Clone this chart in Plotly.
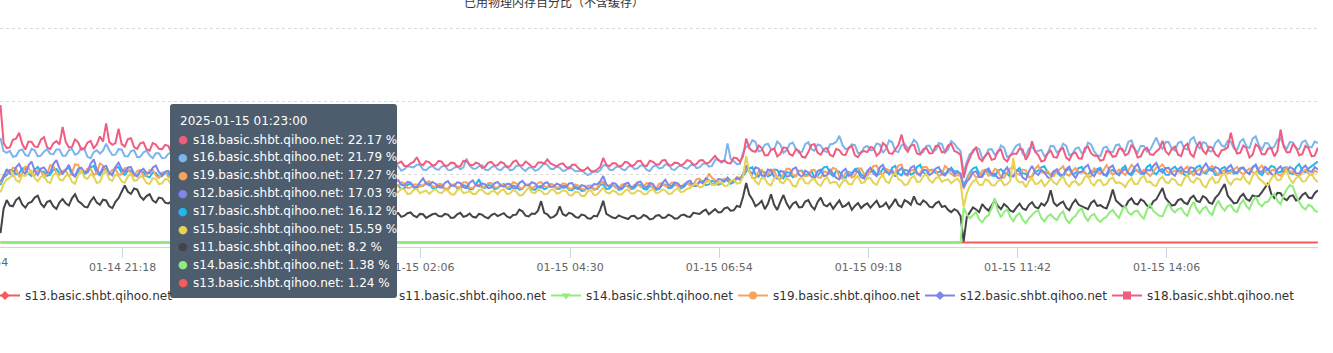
import plotly.graph_objects as go
import pandas as pd

# ---------------- data (3-minute samples) ----------------
start_time = "2025-01-14 19:20"
step = "3min"

s18 = [
    39.0, 28.6, 27.2, 27.4, 29.5, 29.8, 31.4, 28.3, 26.8, 29.0, 28.9, 27.6, 27.5, 29.5, 30.2, 27.4, 26.9, 28.5, 29.1, 28.2,
    33.0, 28.9, 27.4, 27.5, 29.6, 28.8, 26.8, 27.0, 28.7, 29.2, 27.2, 28.2, 30.4, 29.0, 34.0, 28.9, 28.1, 28.6, 32.5, 28.3,
    27.6, 29.7, 29.9, 27.5, 27.0, 28.5, 28.8, 26.9, 26.5, 28.6, 28.2, 27.0, 26.9, 28.1, 27.8, 25.8, 25.9, 27.0, 27.1, 25.9,
    26.4, 26.9, 27.5, 26.6, 25.8, 26.4, 26.9, 26.2, 25.6, 26.1, 26.7, 25.9, 25.2, 25.8, 26.3, 25.6, 25.0, 25.5, 26.1, 25.4,
    24.8, 25.3, 25.9, 25.2, 24.6, 25.0, 25.5, 24.9, 24.3, 24.7, 25.2, 24.6, 24.0, 24.4, 24.9, 24.3, 23.8, 24.2, 24.6, 24.1,
    23.6, 24.0, 24.4, 23.8, 23.3, 23.7, 24.1, 23.5, 23.0, 23.4, 23.8, 23.3, 22.8, 23.2, 23.6, 23.1, 22.6, 23.0, 23.4, 22.9,
    22.3, 22.2, 22.1, 21.8, 22.8, 23.0, 22.4, 22.2, 23.1, 23.5, 22.3, 22.3, 23.0, 23.4, 24.7, 22.9, 22.5, 23.6, 23.3, 22.4,
    22.6, 23.7, 23.5, 22.3, 22.4, 23.2, 23.1, 22.1, 22.2, 23.7, 23.6, 22.6, 22.5, 23.2, 22.9, 21.7, 22.1, 23.2, 23.4, 22.4,
    22.5, 23.4, 23.0, 21.9, 22.2, 23.4, 23.8, 22.5, 22.4, 23.5, 22.9, 22.1, 22.0, 23.2, 23.3, 22.9, 24.1, 23.0, 22.6, 22.1,
    22.8, 23.0, 22.0, 21.6, 22.6, 22.6, 21.7, 20.9, 21.2, 21.9, 20.9, 20.7, 21.3, 22.0, 24.5, 22.6, 22.2, 23.0, 23.0, 22.1,
    22.4, 23.4, 23.2, 22.2, 22.6, 23.6, 23.7, 22.4, 22.3, 23.7, 23.4, 22.7, 22.7, 23.8, 23.9, 22.4, 22.5, 23.2, 23.1, 22.4,
    22.9, 23.9, 23.6, 22.5, 22.8, 23.8, 23.9, 23.0, 23.2, 24.2, 25.1, 23.9, 23.5, 23.8, 23.1, 23.0, 24.6, 24.4, 23.4, 25.0,
    29.8, 27.2, 26.4, 26.2, 27.9, 27.2, 25.2, 25.2, 26.8, 27.1, 24.9, 25.6, 27.4, 27.2, 25.5, 25.1, 26.9, 26.4, 24.8, 24.6,
    26.1, 28.1, 28.3, 25.9, 25.4, 26.9, 27.2, 25.3, 24.9, 27.0, 26.6, 25.4, 25.3, 27.3, 27.8, 25.2, 24.7, 26.1, 26.4, 26.1,
    27.5, 27.2, 25.1, 25.9, 28.6, 27.8, 25.8, 25.6, 27.0, 28.0, 30.9, 27.4, 26.2, 27.9, 28.1, 25.7, 25.4, 26.9, 27.3, 25.7,
    25.8, 27.8, 27.9, 26.0, 26.2, 27.9, 28.4, 26.4, 26.0, 25.4, 19.0, 22.5, 24.5, 26.6, 27.3, 24.4, 23.6, 25.2, 25.9, 24.0,
    24.2, 26.4, 26.8, 24.2, 23.5, 25.2, 25.7, 25.6, 27.1, 26.8, 24.0, 25.5, 29.1, 26.2, 25.3, 23.5, 23.8, 25.7, 26.5, 24.7,
    24.6, 26.8, 27.2, 24.6, 23.9, 25.6, 26.0, 24.4, 24.3, 27.2, 27.6, 25.8, 25.1, 25.1, 23.7, 24.0, 26.4, 26.1, 24.8, 25.0,
    27.0, 27.0, 25.2, 25.7, 28.1, 27.0, 24.6, 24.9, 26.7, 27.3, 25.5, 25.3, 26.3, 27.0, 29.2, 26.3, 25.4, 27.0, 27.6, 25.4,
    25.0, 27.6, 28.4, 25.6, 24.8, 27.5, 29.0, 26.5, 25.6, 27.6, 27.3, 25.5, 24.9, 26.6, 26.8, 27.4, 31.4, 27.6, 25.7, 25.9,
    27.9, 27.2, 24.6, 25.4, 28.2, 27.5, 25.5, 25.5, 27.1, 27.2, 24.9, 26.4, 32.3, 27.6, 26.0, 26.1, 28.4, 27.3, 25.2, 25.6,
    27.8, 27.2, 24.9, 25.1, 27.3,
]

s16 = [
    30.0, 26.4, 25.9, 26.4, 24.8, 25.0, 26.5, 26.8, 25.3, 25.0, 27.0, 26.6, 24.9, 25.1, 26.2, 26.9, 25.6, 25.5, 26.8, 26.8,
    25.1, 25.1, 26.6, 27.0, 25.4, 25.8, 27.3, 27.0, 24.8, 24.4, 26.1, 26.6, 25.7, 26.5, 28.4, 26.6, 25.3, 25.4, 26.9, 26.8,
    25.0, 24.9, 26.4, 26.6, 24.7, 24.8, 26.0, 26.5, 25.2, 24.4, 25.8, 25.8, 24.4, 24.5, 25.6, 26.1, 24.6, 24.3, 25.3, 25.6,
    24.3, 24.8, 25.1, 24.5, 24.0, 24.4, 24.8, 24.2, 23.7, 24.1, 24.5, 23.9, 23.5, 23.9, 24.2, 23.7, 23.3, 23.7, 24.0, 23.5,
    23.1, 23.5, 23.8, 23.3, 22.9, 23.3, 23.6, 23.1, 22.7, 23.0, 23.4, 22.9, 22.5, 22.8, 23.1, 22.7, 22.3, 22.6, 22.9, 22.5,
    22.2, 22.5, 22.8, 22.4, 22.0, 22.3, 22.6, 22.2, 21.9, 22.2, 22.5, 22.1, 21.7, 22.0, 22.3, 21.9, 21.6, 21.9, 22.1, 21.9,
    21.8, 21.8, 21.7, 22.7, 22.3, 21.5, 21.5, 22.5, 22.2, 21.0, 21.4, 22.2, 22.0, 21.9, 22.6, 22.6, 21.3, 21.1, 21.9, 22.3,
    21.5, 21.2, 22.1, 22.4, 21.2, 21.1, 21.8, 22.2, 21.4, 21.9, 24.3, 22.4, 21.6, 21.5, 22.2, 22.5, 21.3, 21.1, 21.9, 22.3,
    21.4, 21.1, 22.0, 22.3, 21.1, 21.3, 22.3, 22.5, 21.5, 20.9, 21.8, 21.9, 21.0, 21.2, 22.1, 23.0, 22.6, 21.5, 21.4, 22.2,
    21.8, 20.9, 21.1, 22.0, 21.5, 20.8, 20.8, 21.2, 20.4, 19.8, 20.2, 20.9, 20.6, 21.1, 22.4, 22.5, 21.3, 21.1, 21.9, 22.3,
    21.4, 21.1, 22.0, 22.5, 21.5, 21.6, 22.4, 22.4, 21.2, 20.9, 22.1, 22.4, 21.6, 21.8, 22.7, 22.8, 21.4, 21.2, 22.0, 22.5,
    21.8, 21.5, 22.4, 22.8, 21.7, 21.9, 22.8, 23.1, 22.1, 22.3, 24.0, 24.1, 23.2, 23.7, 28.5, 24.2, 23.6, 22.8, 22.9, 25.9,
    27.6, 27.7, 29.4, 28.9, 26.3, 26.6, 28.1, 28.4, 26.8, 26.8, 29.0, 28.2, 25.9, 26.6, 28.3, 28.7, 27.0, 25.9, 26.2, 28.3,
    28.8, 26.9, 26.5, 28.2, 27.9, 26.4, 26.1, 28.2, 28.4, 28.9, 30.6, 28.0, 26.9, 27.1, 28.2, 28.0, 25.8, 25.9, 27.4, 27.8,
    26.6, 26.8, 28.5, 28.2, 25.9, 27.0, 29.3, 28.8, 26.4, 26.1, 28.0, 28.3, 27.1, 27.8, 29.5, 28.6, 25.7, 26.1, 27.8, 27.9,
    26.3, 26.7, 28.6, 28.3, 25.9, 26.9, 29.1, 28.4, 27.2, 26.4, 20.2, 23.4, 25.6, 26.0, 27.4, 26.9, 24.3, 24.9, 26.8, 26.9,
    25.4, 25.9, 27.9, 27.3, 24.7, 25.1, 26.6, 27.9, 28.3, 25.6, 25.1, 27.0, 27.5, 26.5, 26.4, 26.7, 24.9, 25.7, 27.8, 27.7,
    26.0, 26.4, 28.4, 27.8, 25.2, 25.6, 27.1, 27.4, 25.8, 26.2, 28.7, 28.2, 26.3, 25.2, 25.0, 27.3, 27.6, 26.2, 26.1, 28.0,
    28.2, 26.5, 26.4, 28.9, 29.3, 27.0, 25.9, 27.8, 27.8, 26.2, 26.7, 28.6, 30.1, 28.0, 27.0, 28.9, 28.8, 27.0, 26.5, 28.6,
    29.0, 27.1, 26.8, 29.5, 30.2, 28.1, 27.1, 28.8, 28.6, 26.4, 26.3, 28.6, 29.4, 28.0, 27.5, 29.2, 28.9, 27.1, 26.7, 29.0,
    29.7, 27.7, 27.2, 29.8, 30.4, 28.0, 26.8, 28.6, 28.5, 27.0, 27.6, 29.5, 29.9, 28.0, 27.0, 28.9, 28.7, 27.1, 26.9, 28.9,
    29.3, 27.6, 27.4, 29.0, 28.6,
]

s19 = [
    17.5, 19.8, 20.6, 20.3, 21.8, 21.6, 19.4, 20.2, 22.1, 21.9, 20.0, 19.6, 21.3, 20.9, 19.2, 20.2, 22.5, 22.3, 20.3, 19.9,
    21.0, 21.0, 19.6, 20.3, 22.7, 22.6, 20.4, 20.4, 21.5, 21.5, 19.8, 20.3, 23.0, 22.4, 20.6, 20.2, 21.2, 21.5, 19.9, 20.0,
    21.7, 21.6, 20.2, 19.6, 20.9, 21.2, 19.5, 19.7, 21.1, 21.2, 19.7, 19.0, 20.5, 20.5, 19.3, 19.0, 20.2, 20.5, 19.0, 18.5,
    19.6, 20.0, 20.3, 19.6, 19.0, 19.5, 19.9, 19.2, 18.7, 19.1, 19.5, 18.9, 18.5, 18.9, 19.2, 18.7, 18.3, 18.7, 19.0, 18.5,
    18.2, 18.5, 18.8, 18.3, 17.9, 18.3, 18.6, 18.1, 17.8, 18.1, 18.4, 17.9, 17.6, 17.9, 18.2, 17.8, 17.5, 17.8, 18.0, 17.6,
    17.4, 17.8, 18.1, 17.6, 17.3, 17.6, 17.9, 17.5, 17.2, 17.5, 17.8, 17.3, 17.0, 17.4, 17.7, 17.2, 16.9, 17.2, 17.5, 17.3,
    17.1, 17.3, 17.4, 16.4, 16.6, 18.0, 17.9, 17.0, 16.8, 17.8, 17.5, 16.2, 16.4, 17.2, 17.2, 16.6, 16.9, 17.8, 18.1, 16.7,
    16.5, 17.4, 17.3, 16.1, 16.0, 17.2, 17.0, 16.4, 16.6, 17.8, 17.8, 16.2, 16.2, 17.0, 17.1, 16.3, 16.5, 17.6, 17.6, 16.4,
    16.3, 17.2, 17.0, 16.3, 16.7, 17.8, 17.5, 16.4, 16.0, 17.2, 17.2, 16.1, 16.6, 17.6, 17.9, 16.7, 16.4, 17.3, 17.0, 16.2,
    16.6, 17.5, 17.3, 16.0, 16.1, 17.2, 16.9, 16.0, 15.8, 16.9, 16.7, 15.7, 16.2, 17.5, 18.0, 17.0, 16.9, 17.2, 16.3, 16.2,
    17.2, 17.3, 16.4, 16.2, 17.1, 17.5, 16.5, 16.7, 17.6, 17.5, 16.2, 16.0, 17.4, 17.5, 16.8, 16.8, 17.7, 17.8, 16.6, 16.4,
    17.3, 17.6, 16.9, 17.2, 18.6, 18.8, 17.5, 18.2, 20.2, 19.0, 18.4, 17.4, 17.9, 18.8, 18.8, 18.0, 18.1, 19.2, 19.0, 19.7,
    21.6, 21.0, 19.0, 19.0, 20.8, 21.3, 19.7, 19.9, 21.3, 21.0, 19.1, 18.6, 20.2, 21.5, 21.5, 19.8, 19.4, 21.0, 20.7, 19.4,
    19.6, 21.1, 21.2, 19.2, 19.0, 20.8, 20.5, 20.6, 21.8, 21.4, 19.3, 18.8, 20.4, 20.4, 19.1, 19.6, 21.4, 21.6, 20.0, 19.6,
    20.8, 22.3, 22.4, 20.3, 19.9, 21.5, 21.1, 20.2, 20.5, 22.4, 22.7, 20.0, 19.6, 21.0, 21.3, 20.0, 20.2, 22.0, 22.0, 20.8,
    21.2, 21.0, 19.5, 20.0, 22.3, 21.5, 20.1, 19.4, 19.8, 19.5, 16.0, 18.0, 20.2, 20.3, 19.1, 19.4, 21.0, 21.2, 19.6, 19.8,
    21.5, 21.1, 19.2, 19.0, 20.6, 21.6, 22.0, 20.3, 19.8, 21.3, 21.1, 19.2, 19.4, 21.5, 22.4, 20.6, 20.3, 20.9, 19.7, 19.5,
    20.9, 21.4, 22.2, 20.0, 19.6, 20.9, 21.7, 20.5, 20.4, 20.7, 19.3, 19.4, 21.8, 20.6, 20.1, 21.1, 22.5, 21.0, 19.9, 20.5,
    21.3, 20.6, 19.8, 21.0, 22.6, 21.8, 20.7, 20.4, 21.2, 20.4, 19.5, 20.6, 21.9, 22.0, 22.7, 21.3, 20.3, 20.5, 21.0, 20.8,
    20.2, 21.4, 22.1, 20.6, 19.7, 20.9, 21.5, 20.6, 20.9, 21.8, 22.3, 20.8, 19.8, 20.7, 21.2, 20.2, 20.5, 21.4, 22.0, 20.6,
    19.9, 20.9, 21.6, 20.5, 20.4, 21.6, 22.4, 20.9, 20.0, 21.0, 21.3, 20.1, 19.6, 20.9, 21.8, 20.8, 20.7, 19.8, 19.5, 20.6,
    21.2, 20.2, 19.8, 21.0, 20.5,
]

s12 = [
    18.0, 19.4, 21.4, 20.2, 19.6, 21.9, 22.8, 21.0, 20.1, 22.4, 23.5, 21.0, 19.8, 21.6, 21.9, 20.5, 20.4, 22.8, 23.9, 21.6,
    20.2, 21.2, 22.6, 20.4, 19.5, 21.5, 21.8, 20.6, 20.7, 22.9, 24.1, 21.3, 20.0, 21.9, 22.3, 20.4, 19.7, 22.0, 23.2, 21.4,
    20.6, 21.9, 22.0, 20.1, 19.4, 20.9, 21.5, 20.4, 20.3, 21.8, 22.4, 20.6, 19.8, 20.7, 20.9, 19.6, 19.1, 20.4, 20.6, 19.6,
    19.9, 20.4, 20.8, 20.0, 19.3, 19.8, 20.4, 19.6, 18.9, 19.5, 20.1, 19.4, 18.7, 19.2, 19.8, 19.2, 18.6, 19.0, 19.5, 19.0,
    18.5, 18.9, 19.3, 18.7, 18.2, 18.6, 19.1, 18.5, 18.0, 18.4, 18.8, 18.3, 17.9, 18.2, 18.6, 18.1, 17.7, 18.0, 18.4, 18.0,
    17.6, 18.0, 18.3, 17.9, 17.5, 17.8, 18.1, 17.7, 17.3, 17.6, 18.0, 17.6, 17.2, 17.5, 17.9, 17.5, 17.1, 17.4, 17.6, 17.2,
    16.9, 17.0, 17.1, 17.9, 17.8, 16.8, 16.6, 17.9, 18.4, 17.1, 16.9, 17.9, 17.7, 16.6, 16.5, 17.8, 18.9, 17.4, 17.0, 17.9,
    17.4, 16.5, 16.3, 17.6, 18.1, 16.9, 16.8, 17.8, 17.6, 16.4, 16.2, 17.7, 18.3, 17.0, 16.7, 17.5, 17.2, 16.2, 16.4, 17.5,
    17.9, 16.9, 16.6, 17.4, 17.3, 16.2, 16.1, 17.6, 18.2, 17.0, 16.9, 17.8, 17.5, 16.4, 16.3, 17.5, 17.8, 16.5, 16.6, 17.4,
    17.1, 16.3, 16.4, 17.5, 17.6, 16.2, 15.9, 17.0, 16.8, 16.0, 16.3, 17.3, 17.2, 18.0, 19.5, 17.2, 16.5, 17.6, 17.4, 16.3,
    16.2, 17.4, 17.7, 16.4, 16.6, 17.8, 18.0, 16.6, 16.4, 17.6, 17.3, 16.0, 16.1, 17.6, 18.5, 17.0, 16.7, 17.7, 17.5, 16.6,
    16.9, 17.9, 18.2, 16.9, 16.8, 18.0, 17.6, 18.9, 18.4, 17.3, 17.2, 18.7, 18.6, 18.0, 19.1, 18.2, 17.9, 19.0, 18.5, 20.1,
    22.4, 20.9, 20.1, 21.9, 21.6, 19.7, 19.4, 21.3, 21.0, 19.3, 18.8, 20.9, 20.7, 19.3, 19.6, 21.4, 21.9, 19.9, 19.2, 21.0,
    20.5, 19.3, 18.9, 20.9, 21.3, 19.5, 19.7, 21.2, 20.2, 19.0, 18.6, 20.8, 21.5, 19.6, 19.9, 21.1, 20.6, 19.2, 18.8, 20.9,
    21.8, 20.2, 19.5, 21.9, 22.6, 20.6, 20.3, 21.0, 19.4, 20.9, 21.7, 20.2, 20.0, 21.8, 22.3, 20.4, 19.6, 21.2, 21.1, 19.8,
    20.4, 21.6, 22.0, 20.1, 19.7, 21.3, 21.4, 20.0, 20.6, 20.2, 16.5, 18.0, 18.9, 20.6, 20.8, 19.2, 19.3, 21.0, 21.6, 20.0,
    20.1, 19.0, 18.7, 20.9, 21.9, 20.0, 19.4, 21.0, 20.8, 19.1, 18.5, 20.8, 22.3, 20.5, 19.8, 21.2, 20.6, 19.2, 18.9, 20.7,
    21.4, 20.0, 19.6, 21.4, 22.1, 20.1, 19.0, 20.5, 20.7, 21.9, 22.6, 20.3, 19.5, 21.0, 21.2, 19.9, 20.0, 21.8, 22.4, 20.4,
    19.7, 20.9, 21.5, 20.3, 20.2, 21.9, 22.8, 20.8, 19.9, 21.2, 21.0, 22.3, 23.1, 21.2, 20.4, 21.7, 21.8, 20.2, 19.6, 21.4,
    22.0, 20.7, 20.5, 21.9, 21.7, 20.1, 19.8, 21.8, 23.0, 21.3, 20.9, 22.0, 21.6, 20.3, 20.1, 21.8, 22.5, 20.8, 20.3, 21.7,
    21.9, 20.6, 20.0, 21.8, 22.7, 20.9, 20.6, 22.0, 21.4, 20.1, 19.7, 21.4, 22.2, 20.5, 20.8, 22.0, 21.5, 20.3, 20.2, 21.6,
    22.4, 21.0, 20.6, 22.0, 21.3,
]

s17 = [
    17.0, 19.1, 19.8, 21.2, 21.0, 20.0, 20.2, 21.6, 21.7, 20.1, 19.5, 21.3, 22.0, 20.9, 20.6, 19.6, 19.9, 21.3, 21.4, 20.3,
    20.1, 21.4, 21.8, 20.0, 19.4, 20.8, 21.0, 20.1, 20.5, 21.9, 22.3, 20.3, 19.7, 21.2, 21.5, 20.0, 20.2, 21.7, 22.0, 20.4,
    19.8, 20.9, 21.1, 19.8, 19.6, 20.8, 20.6, 19.5, 19.2, 20.5, 20.4, 19.3, 19.5, 20.4, 20.1, 19.0, 18.9, 19.9, 19.8, 19.0,
    19.1, 19.5, 19.8, 19.2, 18.6, 19.0, 19.4, 18.8, 18.3, 18.7, 19.0, 18.5, 18.1, 18.4, 18.7, 18.3, 17.9, 18.2, 18.5, 18.1,
    17.8, 18.1, 18.3, 17.9, 17.5, 17.8, 18.0, 17.6, 17.3, 17.6, 17.8, 17.4, 17.1, 17.4, 17.6, 17.2, 16.9, 17.2, 17.4, 17.0,
    16.8, 17.0, 17.2, 16.9, 16.6, 16.9, 17.1, 16.8, 16.5, 16.7, 16.9, 16.6, 16.3, 16.6, 16.8, 16.5, 16.2, 16.4, 16.6, 16.2,
    16.3, 16.1, 16.0, 16.8, 16.7, 15.8, 15.9, 16.9, 16.9, 15.9, 16.2, 17.1, 17.4, 16.3, 16.1, 17.0, 16.8, 17.6, 17.5, 16.2,
    16.0, 17.0, 16.9, 15.9, 15.8, 16.9, 17.2, 16.1, 16.3, 17.0, 16.7, 15.8, 15.9, 17.2, 18.6, 16.6, 16.2, 17.1, 16.8, 15.9,
    16.1, 16.9, 17.3, 16.1, 15.9, 16.9, 16.6, 15.8, 16.0, 17.1, 17.0, 15.9, 15.7, 16.6, 16.8, 15.9, 16.3, 17.3, 17.1, 16.0,
    16.0, 16.9, 16.7, 15.7, 15.6, 16.5, 16.4, 15.4, 15.5, 16.8, 16.9, 15.8, 15.9, 17.0, 17.3, 16.0, 16.1, 17.0, 16.6, 15.7,
    15.9, 16.9, 16.8, 15.9, 16.2, 17.2, 17.0, 16.0, 15.8, 16.8, 16.5, 15.7, 16.0, 17.1, 17.2, 16.2, 16.3, 17.2, 16.9, 16.1,
    16.6, 17.5, 17.4, 16.7, 16.8, 18.0, 18.1, 17.0, 17.2, 18.2, 17.9, 17.1, 17.5, 18.5, 18.3, 17.4, 17.8, 18.9, 18.6, 19.5,
    20.8, 21.6, 21.9, 20.0, 19.3, 20.8, 20.5, 19.4, 19.9, 21.3, 21.2, 19.6, 18.9, 20.6, 20.4, 19.2, 19.6, 21.0, 21.0, 19.8,
    20.0, 20.9, 19.2, 19.6, 20.9, 21.9, 22.1, 20.3, 19.5, 21.0, 20.7, 19.4, 19.0, 20.6, 20.3, 21.4, 21.6, 19.9, 19.4, 20.8,
    20.6, 21.1, 19.8, 20.1, 21.5, 21.2, 20.0, 21.8, 22.3, 20.2, 19.7, 21.2, 21.0, 19.9, 20.4, 22.0, 22.6, 20.5, 19.9, 21.1,
    21.3, 20.4, 20.6, 21.0, 19.9, 20.6, 21.8, 20.7, 20.9, 20.0, 17.0, 19.0, 20.5, 21.6, 22.0, 20.2, 19.7, 21.2, 20.8, 19.7,
    19.5, 20.9, 21.4, 20.4, 20.2, 19.3, 19.6, 21.0, 21.7, 20.3, 20.1, 19.2, 19.3, 20.7, 21.0, 21.9, 22.2, 20.4, 19.8, 20.9,
    20.7, 19.6, 19.4, 21.0, 21.5, 20.1, 20.3, 21.7, 22.0, 20.3, 19.9, 20.9, 20.6, 21.4, 21.8, 20.0, 19.5, 20.9, 21.2, 20.2,
    20.1, 21.6, 22.3, 20.2, 19.7, 21.0, 21.1, 20.1, 20.5, 22.0, 22.6, 20.6, 20.0, 21.2, 21.4, 19.9, 19.8, 21.5, 22.1, 20.9,
    21.0, 19.9, 19.6, 20.6, 20.8, 22.0, 22.4, 20.5, 20.2, 21.4, 21.5, 19.8, 19.9, 21.6, 22.0, 20.8, 21.1, 20.2, 20.4, 21.5,
    21.7, 20.6, 20.3, 22.0, 22.5, 20.4, 19.8, 21.1, 21.2, 22.3, 22.0, 20.5, 20.6, 21.8, 21.9, 20.3, 20.1, 22.0, 22.8, 21.0,
    20.5, 21.6, 22.2, 22.7, 23.5,
]

s15 = [
    15.0, 17.3, 18.6, 19.0, 20.2, 18.4, 17.8, 19.8, 19.5, 20.5, 21.0, 18.9, 18.1, 19.3, 19.7, 18.0, 17.6, 19.8, 20.4, 18.6,
    18.3, 19.6, 19.9, 17.9, 17.4, 19.8, 21.2, 19.2, 18.7, 20.0, 19.4, 17.6, 17.9, 20.1, 20.8, 18.6, 18.2, 19.9, 19.6, 18.0,
    17.7, 19.4, 20.1, 18.2, 18.4, 19.5, 19.0, 17.6, 17.3, 18.9, 18.8, 17.3, 17.5, 18.7, 18.5, 17.0, 17.2, 18.4, 18.1, 17.4,
    17.6, 18.0, 18.3, 17.7, 17.1, 17.5, 17.9, 17.3, 16.8, 17.2, 17.6, 17.1, 16.7, 17.0, 17.3, 16.9, 16.5, 16.8, 17.1, 16.7,
    16.4, 16.7, 17.0, 16.6, 16.2, 16.5, 16.8, 16.4, 16.1, 16.3, 16.6, 16.2, 15.9, 16.2, 16.4, 16.1, 15.8, 16.0, 16.3, 15.9,
    15.7, 16.0, 16.2, 15.9, 15.6, 15.8, 16.1, 15.8, 15.5, 15.7, 16.0, 15.7, 15.4, 15.6, 15.9, 15.6, 15.3, 15.5, 15.8, 15.6,
    15.5, 15.6, 15.7, 14.8, 14.9, 15.9, 16.2, 14.9, 15.1, 16.0, 15.8, 14.6, 14.7, 15.7, 16.0, 14.8, 15.2, 15.5, 14.6, 15.4,
    15.9, 15.0, 14.8, 15.7, 15.5, 14.5, 14.4, 15.6, 16.1, 14.8, 15.0, 15.4, 14.6, 14.6, 15.7, 15.8, 14.9, 14.5, 15.3, 15.4,
    14.5, 15.5, 15.8, 14.6, 14.7, 15.7, 15.2, 14.2, 14.3, 15.5, 16.4, 15.0, 14.8, 15.7, 15.5, 14.5, 14.6, 15.6, 15.9, 14.7,
    14.9, 15.6, 15.4, 14.3, 14.2, 15.2, 15.1, 14.0, 14.0, 15.3, 15.6, 14.3, 14.4, 15.4, 16.3, 15.0, 14.7, 15.5, 15.2, 14.4,
    14.5, 15.5, 15.7, 14.7, 14.8, 15.6, 15.3, 14.5, 14.6, 15.6, 15.9, 14.8, 15.0, 15.8, 15.5, 14.6, 14.7, 15.7, 16.0, 15.1,
    15.3, 16.0, 16.2, 17.0, 17.4, 16.4, 16.6, 17.8, 18.3, 17.0, 17.1, 18.0, 17.8, 16.8, 16.9, 18.2, 18.5, 17.4, 17.6, 19.5,
    25.0, 20.6, 19.4, 18.0, 17.2, 19.0, 18.8, 17.4, 16.9, 18.9, 19.6, 17.8, 17.5, 18.9, 18.3, 16.9, 16.6, 18.6, 19.1, 17.6,
    17.4, 18.5, 18.7, 17.3, 16.8, 18.4, 19.3, 17.5, 17.9, 17.8, 16.5, 17.9, 18.6, 17.3, 17.2, 18.8, 19.5, 17.6, 17.8, 19.0,
    18.9, 17.6, 17.1, 18.9, 19.8, 18.0, 17.6, 19.5, 20.4, 18.6, 18.2, 17.0, 17.3, 18.9, 19.6, 17.9, 18.0, 19.5, 20.1, 18.3,
    17.7, 19.0, 19.2, 17.9, 18.4, 18.6, 17.5, 18.3, 18.8, 17.6, 11.0, 14.8, 16.8, 18.0, 18.5, 17.1, 17.0, 18.6, 18.2, 17.0,
    16.9, 18.1, 18.6, 17.0, 17.3, 18.2, 24.5, 18.6, 17.8, 17.9, 16.4, 18.0, 19.0, 17.3, 17.5, 18.4, 16.7, 17.6, 18.9, 17.8,
    17.2, 18.6, 19.4, 17.5, 16.6, 17.9, 18.1, 17.0, 17.6, 19.2, 19.8, 17.6, 16.9, 18.3, 18.4, 17.0, 17.3, 18.7, 19.1, 17.6,
    17.8, 17.4, 16.5, 18.0, 18.9, 17.3, 17.4, 18.9, 19.6, 17.9, 18.0, 17.0, 16.8, 18.6, 19.3, 17.8, 17.6, 18.8, 18.5, 17.2,
    16.9, 18.8, 19.9, 18.2, 17.7, 19.0, 18.6, 16.9, 16.4, 18.3, 19.2, 17.6, 17.9, 19.6, 20.3, 18.1, 17.1, 18.5, 18.8, 18.4,
    19.6, 18.1, 17.4, 19.6, 20.5, 18.8, 18.2, 17.3, 17.0, 18.9, 19.8, 18.3, 18.5, 20.2, 20.9, 18.6, 17.6, 19.0, 19.4, 18.0,
    18.1, 19.5, 20.2, 18.6, 17.9,
]

s11 = [
    3.8, 10.5, 12.9, 11.4, 11.2, 12.9, 13.6, 11.7, 10.8, 12.1, 12.4, 13.6, 14.1, 11.9, 11.0, 12.4, 12.7, 11.2, 10.5, 12.3,
    13.2, 12.0, 11.4, 13.4, 14.5, 12.6, 12.0, 11.1, 10.9, 12.6, 13.7, 12.2, 11.6, 13.0, 12.8, 11.2, 10.7, 12.4, 13.4, 15.0,
    16.9, 15.2, 14.6, 16.1, 15.8, 13.9, 13.0, 14.0, 14.5, 12.8, 12.2, 13.6, 13.4, 12.2, 12.0, 12.5, 11.4, 12.1, 12.6, 11.6,
    11.8, 12.1, 12.3, 11.6, 11.2, 11.5, 11.7, 11.1, 10.8, 11.1, 11.3, 10.8, 10.5, 10.8, 10.9, 10.5, 10.2, 10.5, 10.6, 10.2,
    9.9, 10.2, 10.4, 10.0, 9.7, 9.9, 10.1, 9.7, 9.5, 9.8, 9.9, 9.5, 9.3, 9.6, 9.7, 9.3, 9.1, 9.3, 9.4, 9.1,
    9.0, 9.2, 9.3, 9.0, 8.8, 9.0, 9.1, 8.8, 8.7, 8.9, 8.9, 8.6, 8.5, 8.7, 8.8, 8.5, 8.4, 8.6, 8.6, 8.4,
    8.3, 8.2, 8.1, 8.8, 8.9, 8.0, 8.4, 9.2, 9.3, 8.3, 8.6, 9.3, 9.5, 8.6, 8.2, 9.1, 9.0, 8.0, 8.5, 9.0,
    9.2, 8.5, 8.4, 9.1, 8.9, 8.0, 8.1, 9.0, 9.4, 8.3, 8.6, 9.2, 8.3, 8.1, 9.1, 8.9, 8.2, 7.9, 8.8, 9.2,
    8.5, 8.9, 9.3, 8.4, 8.0, 8.8, 8.9, 10.3, 9.8, 8.6, 8.4, 9.2, 9.1, 10.0, 12.6, 9.4, 9.0, 8.0, 8.3, 9.0,
    11.2, 9.0, 8.6, 9.4, 9.1, 8.3, 8.0, 8.9, 8.7, 7.9, 7.8, 8.6, 8.4, 10.2, 12.7, 9.1, 8.5, 8.1, 7.9, 8.7,
    8.3, 7.9, 7.7, 8.5, 8.6, 7.8, 8.0, 8.8, 8.4, 7.6, 7.8, 8.6, 8.8, 8.0, 8.1, 8.9, 8.5, 7.8, 7.9, 8.7,
    8.9, 8.4, 8.3, 9.4, 9.2, 9.1, 9.8, 10.3, 9.0, 9.6, 10.4, 9.5, 9.6, 10.6, 10.9, 10.0, 10.1, 11.3, 11.0, 13.8,
    17.6, 14.4, 13.1, 11.2, 11.8, 12.7, 10.4, 11.9, 14.5, 11.6, 10.2, 12.4, 14.3, 12.0, 10.6, 11.9, 12.4, 10.9, 11.0, 12.5,
    12.9, 11.2, 10.3, 12.4, 13.6, 11.6, 11.2, 12.0, 10.5, 11.7, 12.8, 11.0, 11.4, 12.2, 10.2, 11.3, 12.1, 10.7, 11.5, 12.0,
    10.8, 11.8, 12.7, 11.0, 11.3, 12.2, 10.6, 11.8, 13.2, 11.5, 11.0, 12.9, 12.4, 11.6, 13.9, 12.0, 11.6, 12.8, 12.2, 11.1,
    10.9, 12.0, 12.5, 11.0, 11.3, 10.2, 9.6, 10.4, 9.9, 8.5, 1.5, 8.2, 9.5, 10.9, 10.3, 9.6, 11.8, 10.7, 10.0, 11.5,
    12.8, 11.3, 10.4, 11.8, 11.1, 10.0, 9.7, 10.9, 11.9, 10.6, 10.2, 11.6, 12.3, 11.0, 10.6, 12.0, 11.4, 12.6, 15.6, 12.2,
    11.3, 12.0, 12.5, 10.8, 10.1, 11.9, 13.0, 11.6, 11.2, 11.0, 10.4, 12.1, 12.8, 11.3, 11.5, 10.9, 10.6, 12.9, 15.8, 12.8,
    12.1, 11.2, 11.0, 12.6, 13.4, 12.0, 11.7, 13.1, 12.6, 11.4, 10.9, 12.5, 13.1, 14.8, 16.2, 13.4, 12.3, 11.4, 11.6, 12.9,
    13.2, 12.2, 11.8, 13.4, 14.1, 12.7, 12.4, 14.0, 13.5, 12.2, 11.9, 13.5, 14.4, 15.8, 17.3, 14.1, 13.0, 12.0, 12.2, 13.8,
    14.6, 13.2, 12.7, 14.2, 13.9, 14.0, 15.1, 16.4, 17.6, 14.6, 13.5, 14.9, 14.8, 13.4, 12.9, 14.0, 14.2, 12.8, 13.1, 14.3,
    14.9, 13.6, 13.4, 14.8, 15.6,
]

# s14: flat until 10:47, then 3-minute samples
s14_flat_times = ["2025-01-14 19:20"]
s14_flat = [1.38]
s14_rest_start = "2025-01-15 10:47"
s14_rest = [
    1.38,
    10.8, 9.0, 7.9, 8.9, 9.6, 7.6, 6.8, 8.1, 8.7, 10.6,
    13.5, 9.9, 8.2, 9.6, 10.4, 8.3, 7.1, 8.6, 9.3, 7.5, 6.5, 7.9, 8.8, 9.7, 10.1, 8.0, 7.0, 8.4, 9.0, 8.0,
    7.4, 8.9, 9.8, 7.6, 6.6, 7.9, 8.5, 9.9, 10.6, 8.4, 7.2, 8.6, 9.1, 7.6, 6.9, 7.8, 8.3, 9.6, 10.2, 8.9,
    8.0, 10.1, 11.3, 9.4, 8.9, 9.8, 10.0, 8.6, 7.8, 10.2, 11.8, 9.9, 9.2, 8.6, 8.4, 10.5, 12.0, 10.3, 9.5, 10.4,
    10.7, 9.3, 8.6, 10.9, 12.4, 10.4, 9.3, 10.6, 11.1, 9.5, 8.8, 11.2, 12.7, 11.0, 10.0, 11.3, 11.5, 10.1, 9.6, 11.8,
    12.9, 11.2, 10.4, 12.6, 13.8, 11.9, 11.2, 12.3, 12.5, 13.9, 14.6, 12.7, 11.8, 14.2, 15.9, 17.0, 16.6, 14.1, 12.4, 11.0,
    10.3, 11.6, 11.2, 10.0, 9.6,
]

s13_times = ["2025-01-14 19:20", "2025-01-15 16:32"]
s13 = [1.24, 1.24]

# drawing order (later = on top), colours, legend
draw_order = ["s17", "s13", "s16", "s11", "s14", "s19", "s12", "s18", "s15"]
series_values = {"s18": s18, "s16": s16, "s19": s19, "s12": s12, "s17": s17,
                 "s15": s15, "s11": s11}
colors = {"s18": "#f15c80", "s16": "#7cb5ec", "s19": "#f7a35c", "s12": "#8085e9",
          "s17": "#1fb8ee", "s15": "#e4d354", "s11": "#434348", "s14": "#90ed7d",
          "s13": "#f45b5b"}
legend_order = ["s13", "s16", "s11", "s14", "s19", "s12", "s18"]
legend_hidden_under_tooltip = {"s16": "both", "s11": "symbol"}
legend_symbols = {"s13": "diamond", "s16": "square", "s11": "triangle-up",
                  "s14": "triangle-down", "s19": "circle", "s12": "diamond",
                  "s18": "square"}
suffix = ".basic.shbt.qihoo.net"

# tooltip content
tip_time = "2025-01-15 01:23:00"
tip_names = ["s18", "s16", "s19", "s12", "s17", "s15", "s11", "s14", "s13"]
tip_values = [22.17, 21.79, 17.27, 17.03, 16.12, 15.59, 8.2, 1.38, 1.24]

# axis
tick_times = ["2025-01-14 21:18", "2025-01-14 23:42", "2025-01-15 02:06",
              "2025-01-15 04:30", "2025-01-15 06:54", "2025-01-15 09:18",
              "2025-01-15 11:42", "2025-01-15 14:06"]
tick_labels = ["01-14 21:18", "", "01-15 02:06", "01-15 04:30",
               "01-15 06:54", "01-15 09:18", "01-15 11:42", "01-15 14:06"]
cut_tick_label = "01-14 18:54"
x_range = ["2025-01-14 19:19:32", "2025-01-15 16:32:08"]
y_range = [0, 60.5]
y_grid = [0, 20, 40, 60]
title_text = "已用物理内存百分比（不含缓存）"

# ---------------- figure ----------------
W, H = 1333, 353
ML, MR, MT, MB = 0, 15, 27, 106
PW, PH = W - ML - MR, H - MT - MB
BOTTOM = MT + PH


def px(x):
    return (x - ML) / PW


def py(y):
    return (BOTTOM - y) / PH


FONT = "DejaVu Sans"


def series_xy(key):
    if key == "s13":
        return s13_times, s13
    if key == "s14":
        rest_t = pd.date_range(s14_rest_start, periods=len(s14_rest), freq=step)
        return list(pd.to_datetime(s14_flat_times)) + list(rest_t), s14_flat + s14_rest
    vals = series_values[key]
    return pd.date_range(start_time, periods=len(vals), freq=step), vals


fig = go.Figure()
for key in draw_order:
    xs, ys = series_xy(key)
    fig.add_trace(go.Scatter(
        x=xs, y=ys, mode="lines", name=key + suffix, showlegend=False,
        line=dict(color=colors[key], width=2), hoverinfo="skip"))

for key in legend_order:
    hide = legend_hidden_under_tooltip.get(key)
    col = "rgba(0,0,0,0)" if hide else colors[key]
    fig.add_trace(go.Scatter(
        x=[None], y=[None], mode="lines+markers",
        name=" " if hide == "both" else key + suffix,
        line=dict(color=col, width=2),
        marker=dict(symbol=legend_symbols[key], color=col,
                    size=7 if legend_symbols[key] == "diamond" else 8)))

# tooltip box with rounded corners (paper coordinates)
bx0, bx1, by0, by1, br = 170, 397, 104, 298, 3
box_path = (
    f"M {px(bx0 + br)},{py(by0)} L {px(bx1 - br)},{py(by0)} "
    f"Q {px(bx1)},{py(by0)} {px(bx1)},{py(by0 + br)} "
    f"L {px(bx1)},{py(by1 - br)} Q {px(bx1)},{py(by1)} {px(bx1 - br)},{py(by1)} "
    f"L {px(bx0 + br)},{py(by1)} Q {px(bx0)},{py(by1)} {px(bx0)},{py(by1 - br)} "
    f"L {px(bx0)},{py(by0 + br)} Q {px(bx0)},{py(by0)} {px(bx0 + br)},{py(by0)} Z"
)
shapes = [dict(type="path", path=box_path, xref="paper", yref="paper",
               fillcolor="#4e5d6d", line=dict(width=0), layer="above")]

annotations = [
    dict(text=title_text, x=px(554), y=py(1.5), xref="paper", yref="paper",
         xanchor="center", yanchor="middle", showarrow=False,
         font=dict(family="Noto Sans CJK SC", size=12, color="#333333")),
    dict(text=cut_tick_label, x=px(-26), y=py(262), xref="paper", yref="paper",
         xanchor="center", yanchor="middle", showarrow=False,
         font=dict(family=FONT, size=11, color="#666666")),
    dict(text=tip_time, x=px(178), y=py(121), xref="paper", yref="paper",
         xanchor="left", yanchor="middle", showarrow=False,
         font=dict(family=FONT, size=12, color="#ffffff")),
]
row0, row_step = 139.5, 17.9
for i, (name, val) in enumerate(zip(tip_names, tip_values)):
    ry = row0 + i * row_step
    annotations.append(dict(
        text="●", x=px(183), y=py(ry), xref="paper", yref="paper",
        xanchor="center", yanchor="middle", showarrow=False,
        font=dict(family=FONT, size=11, color=colors[name])))
    annotations.append(dict(
        text=f"{name}{suffix}: {val} %", x=px(191), y=py(ry), xref="paper",
        yref="paper", xanchor="left", yanchor="middle", showarrow=False,
        font=dict(family=FONT, size=12, color="#ffffff")))

fig.update_layout(
    width=W, height=H,
    margin=dict(l=ML, r=MR, t=MT, b=MB, pad=0, autoexpand=False),
    paper_bgcolor="white", plot_bgcolor="white",
    showlegend=True,
    legend=dict(orientation="h", x=px(-15), xanchor="left", y=py(281),
                yanchor="top", font=dict(family=FONT, size=12, color="#333333"),
                entrywidth=142, entrywidthmode="pixels", itemwidth=30,
                bgcolor="rgba(0,0,0,0)", borderwidth=0),
    xaxis=dict(type="date", range=x_range, tickmode="array", tickvals=tick_times,
               ticktext=tick_labels, ticks="outside", ticklen=10, tickwidth=1,
               tickcolor="#ccd6eb", showline=True, linecolor="#ccd6eb",
               linewidth=1, showgrid=False, zeroline=False,
               tickfont=dict(family=FONT, size=11, color="#666666")),
    yaxis=dict(range=y_range, tickvals=y_grid, showticklabels=False,
               showgrid=True, gridcolor="#d9d9d9", griddash="dot", gridwidth=1,
               zeroline=False, showline=False, ticks=""),
    shapes=shapes,
    annotations=annotations,
    hovermode=False,
)

fig.write_html("out.html")
